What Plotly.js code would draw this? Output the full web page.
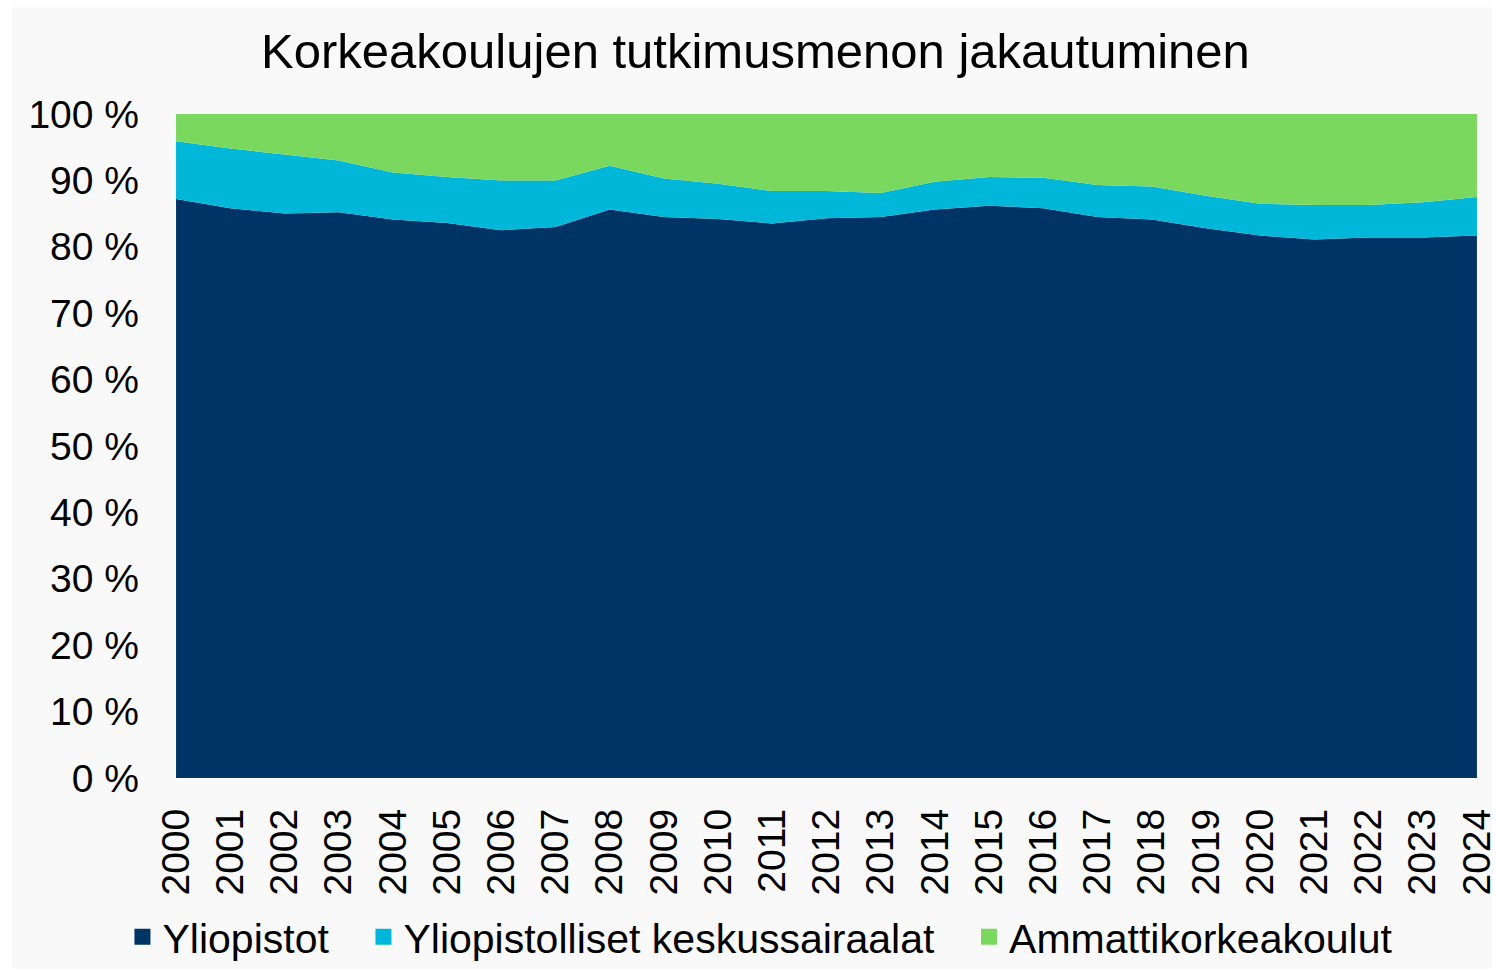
<!DOCTYPE html>
<html>
<head>
<meta charset="utf-8">
<script src="https://cdn.plot.ly/plotly-3.0.1.min.js"></script>
<style>
  html, body { margin: 0; padding: 0; background: #ffffff; }
  #bg { position: absolute; left: 12px; top: 7px; width: 1480px; height: 962px; background: #f9f9f9; }
  #chart { position: absolute; left: 0; top: 0; width: 1496px; height: 969px; }
</style>
</head>
<body>
<div id="bg"></div>
<div id="chart"></div>
<script>
// Data (shares of university-sector R&D expenditure, %)
const years = [2000, 2001, 2002, 2003, 2004, 2005, 2006, 2007, 2008, 2009, 2010, 2011, 2012,
               2013, 2014, 2015, 2016, 2017, 2018, 2019, 2020, 2021, 2022, 2023, 2024];
const yliopistot = [87.2, 85.8, 85.0, 85.2, 84.1, 83.6, 82.5, 83.0, 85.6, 84.5, 84.2, 83.5, 84.3,
                    84.5, 85.6, 86.2, 85.8, 84.5, 84.1, 82.8, 81.7, 81.1, 81.4, 81.4, 81.7];
const keskussairaalat = [8.7, 9.0, 8.9, 7.8, 7.1, 6.9, 7.5, 7.0, 6.6, 5.8, 5.3, 4.9, 4.1,
                         3.6, 4.2, 4.3, 4.6, 4.8, 5.0, 4.9, 4.8, 5.2, 4.9, 5.3, 5.8];
const ammattikorkeakoulut = [4.1, 5.2, 6.1, 7.0, 8.8, 9.5, 10.0, 10.0, 7.8, 9.7, 10.5, 11.6, 11.6,
                             11.9, 10.2, 9.5, 9.6, 10.7, 10.9, 12.3, 13.5, 13.7, 13.7, 13.3, 12.5];
const seriesNames = ["Yliopistot", "Yliopistolliset keskussairaalat", "Ammattikorkeakoulut"];
const colors = ["#003366", "#00B6D9", "#7AD85F"];
const yTicks = [0, 10, 20, 30, 40, 50, 60, 70, 80, 90, 100];
const titleText = "Korkeakoulujen tutkimusmenon jakautuminen";

const font = "'Liberation Sans', Arial, sans-serif";
const seriesValues = [yliopistot, keskussairaalat, ammattikorkeakoulut];

const traces = [];
seriesValues.forEach((vals, i) => {
  traces.push({
    x: years, y: vals, type: "scatter", mode: "lines",
    stackgroup: "one", line: { width: 0, color: colors[i] },
    fillcolor: colors[i], name: seriesNames[i], showlegend: false,
    hoverinfo: "x+y+name"
  });
});
// legend entries with square swatches
const pad = "\u00a0\u00a0\u2006";
seriesValues.forEach((vals, i) => {
  traces.push({
    x: [null], y: [null], type: "scatter", mode: "markers",
    marker: { symbol: "square", size: 22, color: colors[i] },
    name: seriesNames[i] + (i < 2 ? pad : ""), showlegend: true
  });
});

const layout = {
  width: 1496, height: 969,
  margin: { l: 176, r: 19, t: 114, b: 191 },
  paper_bgcolor: "rgba(0,0,0,0)",
  plot_bgcolor: "rgba(0,0,0,0)",
  font: { family: font, color: "#000000", size: 39 },
  title: {
    text: titleText,
    font: { family: font, size: 49, color: "#000000" },
    x: 0.505, xref: "container", xanchor: "center",
    y: 0.948, yref: "container", yanchor: "middle"
  },
  xaxis: {
    range: [1999.999, 2024.001], tickvals: years, ticktext: years.map(String),
    tickangle: -90, tickfont: { size: 39 }, showgrid: false, zeroline: false,
    showline: false, ticks: "", ticklabelstandoff: 22, ticklabeloverflow: "allow",
    fixedrange: true
  },
  yaxis: {
    range: [0, 100], tickvals: yTicks, ticktext: yTicks.map(v => v + " %"),
    tickfont: { size: 39 }, showgrid: true, gridcolor: "#d9d9d9", gridwidth: 1,
    zeroline: false, showline: false, ticks: "", ticklabelstandoff: 36, fixedrange: true
  },
  legend: {
    orientation: "h", xref: "container", yref: "container", traceorder: "normal",
    x: 0.508, xanchor: "center", y: 0.033, yanchor: "middle",
    font: { size: 41, color: "#000000" }, bgcolor: "rgba(0,0,0,0)",
    itemclick: false, itemdoubleclick: false
  },
  showlegend: true,
  hovermode: false
};

Plotly.newPlot("chart", traces, layout, { displayModeBar: false, staticPlot: true });
</script>
</body>
</html>
